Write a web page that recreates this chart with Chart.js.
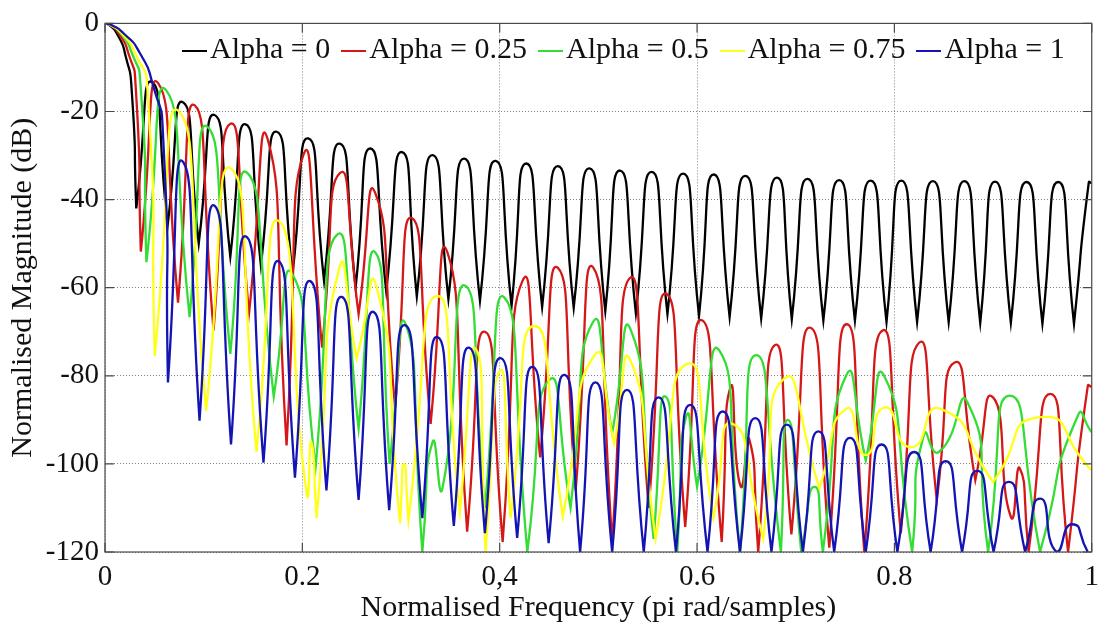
<!DOCTYPE html>
<html>
<head>
<meta charset="utf-8">
<script src="https://cdn.jsdelivr.net/npm/chart.js@4.4.1/dist/chart.umd.min.js"></script>
<style>
  html, body { margin: 0; padding: 0; background: #fff; }
  #wrap { position: relative; width: 1107px; height: 631px; }
  #legend {
    position: absolute; left: 182px; top: 30px;
    font-family: "Liberation Serif", "Times New Roman", serif;
    font-size: 30px; line-height: 36px; color: #111; white-space: nowrap;
  }
  #legend .item { margin-right: 11px; }
  #legend i { display: inline-block; width: 25px; height: 2px; vertical-align: middle; margin-right: 3px; }
</style>
</head>
<body>
<div id="wrap">
  <canvas id="chart" width="1107" height="631"></canvas>
  <div id="legend"></div>
</div>
<script>
// tick values / labels (the original figure prints "0,4" with a comma)
const xTickValues = [0, 0.2, 0.4, 0.6, 0.8, 1];
const xTickLabels = ['0', '0.2', '0,4', '0.6', '0.8', '1'];
const yTickValues = [-120, -100, -80, -60, -40, -20, 0];

// [normalised frequency, magnitude dB]: main lobe, then lobe tops and nulls
const alpha0 = [[0,0],[0.004,-0.3],[0.013,-2.7],[0.021,-7.5],[0.027,-15],[0.0317,-42],[0.0475,-13.3],[0.0634,-46],[0.079,-17.9],[0.095,-50],[0.111,-20.8],[0.127,-53],[0.1425,-22.9],[0.158,-55],[0.174,-24.6],[0.190,-57],[0.206,-26.1],[0.222,-58.5],[0.238,-27.3],[0.254,-60],[0.269,-28.4],[0.285,-60.8],[0.301,-29.2],[0.316,-62],[0.332,-29.9],[0.348,-62.6],[0.364,-30.7],[0.380,-63],[0.396,-31.2],[0.412,-64.2],[0.427,-31.8],[0.443,-64.4],[0.459,-32.4],[0.475,-64.6],[0.491,-32.9],[0.507,-65.3],[0.522,-33.4],[0.538,-65.8],[0.554,-33.7],[0.570,-66],[0.586,-34.1],[0.602,-66.4],[0.617,-34.3],[0.633,-66.7],[0.649,-34.6],[0.665,-67],[0.681,-35.0],[0.696,-67.2],[0.712,-35.3],[0.728,-67.5],[0.744,-35.6],[0.760,-67.5],[0.776,-35.7],[0.792,-67.8],[0.807,-35.7],[0.823,-67.8],[0.839,-35.8],[0.855,-67.8],[0.871,-35.8],[0.887,-68],[0.902,-35.9],[0.918,-68],[0.934,-36.0],[0.950,-68.2],[0.966,-36.0],[0.982,-68.2],[0.997,-36.1],[1,-36.3]];

const alpha025 = [[0,0],[0.004,-0.2],[0.014,-2.3],[0.024,-7],[0.031,-14],[0.0363,-51.8],[0.054,-13.6],[0.074,-63.4],[0.091,-18.6],[0.110,-69.7],[0.127,-22.8],[0.146,-65.7],[0.165,-26.4],[0.184,-95.8],[0.201,-29.9],[0.220,-73.6],[0.238,-34],[0.257,-66],[0.274,-38.6],[0.294,-87.2],[0.311,-44.2],[0.330,-90.9],[0.347,-52],[0.367,-115.4],[0.385,-70],[0.403,-117.7],[0.423,-58.5],[0.441,-98.5],[0.459,-55.5],[0.477,-106],[0.495,-55.5],[0.514,-117.7],[0.532,-57.8],[0.551,-110],[0.569,-61.4],[0.588,-114.3],[0.605,-67.4],[0.625,-117.7],[0.634,-82.5],[0.644,-105],[0.653,-94.5],[0.662,-120],[0.679,-73],[0.6956,-116],[0.715,-69.1],[0.734,-119],[0.752,-68.3],[0.7695,-120],[0.788,-69.7],[0.8065,-115.7],[0.825,-72.5],[0.843,-108.2],[0.861,-77],[0.882,-103.7],[0.900,-84.9],[0.918,-112],[0.927,-101],[0.936,-120],[0.958,-84.1],[0.976,-120],[0.996,-82.3],[1,-82.5]];

const alpha05 = [[0,0],[0.005,-0.3],[0.016,-2.3],[0.027,-6.6],[0.036,-14],[0.042,-54.2],[0.062,-15.2],[0.0857,-66.7],[0.104,-23.5],[0.127,-75],[0.1445,-34],[0.171,-84.7],[0.19,-57],[0.2134,-100.8],[0.235,-48],[0.257,-92],[0.274,-52],[0.2884,-100],[0.305,-68.5],[0.3216,-120],[0.332,-95],[0.342,-105.5],[0.3646,-59.5],[0.385,-110],[0.405,-62.3],[0.428,-120],[0.45,-81],[0.4718,-110],[0.494,-68],[0.514,-93],[0.533,-69.7],[0.556,-117],[0.568,-84.7],[0.58,-120],[0.589,-89.3],[0.60,-105.2],[0.623,-74.4],[0.6435,-120],[0.66,-75.3],[0.685,-120],[0.692,-90],[0.7056,-120],[0.719,-105.2],[0.7275,-120],[0.751,-80],[0.771,-99.2],[0.79,-80.2],[0.818,-120],[0.83,-93.3],[0.845,-97.3],[0.874,-86],[0.895,-120],[0.917,-84.5],[0.9476,-120],[0.986,-89],[1,-92.8]];

const alpha075 = [[0,0],[0.005,-0.3],[0.017,-2.3],[0.031,-7],[0.043,-15],[0.0504,-75.5],[0.075,-20],[0.1025,-87.9],[0.128,-33],[0.1535,-97.3],[0.177,-45],[0.2043,-106.6],[0.209,-95],[0.2144,-112.3],[0.237,-55.9],[0.255,-76],[0.275,-59.7],[0.299,-113.5],[0.303,-100],[0.3075,-112.8],[0.336,-61.9],[0.3596,-110.9],[0.376,-74],[0.3856,-120],[0.400,-79],[0.411,-112.3],[0.435,-68.7],[0.464,-112],[0.4956,-75.5],[0.516,-95.4],[0.5326,-76.6],[0.558,-117],[0.59,-77.3],[0.6166,-112.3],[0.636,-90.9],[0.667,-117],[0.688,-80.7],[0.724,-105.5],[0.751,-87.5],[0.771,-98],[0.79,-87.2],[0.8165,-96.2],[0.847,-87.5],[0.9,-104.1],[0.9476,-89.4],[1,-101.5]];

const alpha1 = [[0,0],[0.006,-0.3],[0.019,-2.3],[0.035,-6.6],[0.0487,-14.1],[0.0588,-25.3],[0.0638,-81.5],[0.079,-31.4],[0.0958,-90.2],[0.111,-41.4],[0.1277,-95.6],[0.143,-48.4],[0.1606,-99.7],[0.176,-54],[0.1925,-103.1],[0.208,-58.5],[0.2244,-106],[0.240,-62.1],[0.257,-108.2],[0.272,-65.5],[0.288,-110.5],[0.304,-68.5],[0.3216,-112.3],[0.337,-71.2],[0.3535,-114.1],[0.369,-73.6],[0.385,-115.7],[0.401,-76],[0.4177,-116.8],[0.4335,-78],[0.4496,-118],[0.466,-79.8],[0.4815,-120],[0.497,-81.5],[0.514,-120],[0.529,-83.2],[0.546,-120],[0.561,-84.9],[0.5786,-120],[0.593,-86.6],[0.6106,-120],[0.626,-88.1],[0.6435,-120],[0.659,-89.6],[0.6754,-120],[0.691,-91.1],[0.7073,-120],[0.723,-92.6],[0.739,-120],[0.755,-94.1],[0.771,-120],[0.787,-95.6],[0.803,-120],[0.820,-97.3],[0.8367,-120],[0.852,-99.4],[0.8686,-120],[0.884,-101.6],[0.9005,-120],[0.916,-104.1],[0.9325,-120],[0.948,-107.9],[0.9644,-120],[0.98,-113.7],[0.996,-120]];

const seriesNames = ['Alpha = 0', 'Alpha = 0.25', 'Alpha = 0.5', 'Alpha = 0.75', 'Alpha = 1'];
const seriesColors = ['#000000', '#d41818', '#33dd33', '#ffff1a', '#1414b4'];
const seriesData = [alpha0, alpha025, alpha05, alpha075, alpha1];

// a null that is well below both neighbours is repeated, so the spline
// turns into a sharp cusp there instead of a round bottom
function toPoints(pairs) {
    const pts = [];
    pairs.forEach(([x, y], i) => {
        pts.push({ x: x, y: y });
        const prev = pairs[i - 1], next = pairs[i + 1];
        if (prev && next && y < Math.min(prev[1], next[1]) - 12) pts.push({ x: x, y: y });
    });
    return pts;
}

const serif = '"Liberation Serif", "Times New Roman", serif';

// box round the plot with MATLAB style inward ticks
const framePlugin = {
    id: 'frame',
    afterDraw(chart) {
        const { ctx, chartArea: a, scales: { x, y } } = chart;
        ctx.save();
        ctx.strokeStyle = '#4a4a4a';
        ctx.lineWidth = 1.2;
        ctx.strokeRect(a.left, a.top, a.right - a.left, a.bottom - a.top);
        ctx.beginPath();
        xTickValues.forEach(v => {
            const px = x.getPixelForValue(v);
            ctx.moveTo(px, a.bottom); ctx.lineTo(px, a.bottom - 9);
            ctx.moveTo(px, a.top); ctx.lineTo(px, a.top + 9);
        });
        yTickValues.forEach(v => {
            const py = y.getPixelForValue(v);
            ctx.moveTo(a.left, py); ctx.lineTo(a.left + 9, py);
            ctx.moveTo(a.right, py); ctx.lineTo(a.right - 9, py);
        });
        ctx.stroke();
        ctx.restore();
    }
};

const chart = new Chart(document.getElementById('chart'), {
    type: 'line',
    data: {
        datasets: seriesData.map((d, i) => ({
            label: seriesNames[i],
            data: toPoints(d),
            borderColor: seriesColors[i],
            backgroundColor: seriesColors[i],
            borderWidth: 2.3,
            pointRadius: 0,
            tension: 0.7,
            fill: false,
            order: seriesData.length - i
        }))
    },
    options: {
        responsive: false,
        animation: false,
        devicePixelRatio: 1,
        layout: { padding: { top: 21, right: 10, left: 0, bottom: 0 } },
        plugins: {
            legend: { display: false },
            tooltip: { enabled: false }
        },
        scales: {
            x: {
                type: 'linear',
                min: 0,
                max: 1,
                afterBuildTicks: s => { s.ticks = xTickValues.map(v => ({ value: v })); },
                afterFit: s => { s.height = 79; },
                ticks: {
                    callback: (v, i) => xTickLabels[i],
                    color: '#111',
                    padding: 8,
                    maxRotation: 0,
                    font: { family: serif, size: 29 }
                },
                grid: { color: 'rgba(90,90,90,0.75)', lineWidth: 1, drawTicks: false },
                border: { display: false, dash: [1, 2] },
                title: {
                    display: true,
                    text: 'Normalised Frequency (pi rad/samples)',
                    color: '#111',
                    font: { family: serif, size: 30 },
                    padding: { top: 0, bottom: 5 }
                }
            },
            y: {
                min: -120,
                max: 0,
                afterBuildTicks: s => { s.ticks = yTickValues.map(v => ({ value: v })); },
                afterFit: s => { s.width = 105; },
                ticks: {
                    color: '#111',
                    padding: 6,
                    font: { family: serif, size: 29 }
                },
                grid: { color: 'rgba(90,90,90,0.75)', lineWidth: 1, drawTicks: false },
                border: { display: false, dash: [1, 2] },
                title: {
                    display: true,
                    text: 'Normalised Magnitude (dB)',
                    color: '#111',
                    font: { family: serif, size: 30 },
                    padding: { top: 5, bottom: 0 }
                }
            }
        }
    },
    plugins: [framePlugin]
});

// legend inside the plot, as in the figure
const legendEl = document.getElementById('legend');
chart.data.datasets.forEach(ds => {
    const item = document.createElement('span');
    item.className = 'item';
    const swatch = document.createElement('i');
    swatch.style.background = ds.borderColor;
    item.appendChild(swatch);
    item.appendChild(document.createTextNode(ds.label));
    legendEl.appendChild(item);
});
</script>
</body>
</html>
